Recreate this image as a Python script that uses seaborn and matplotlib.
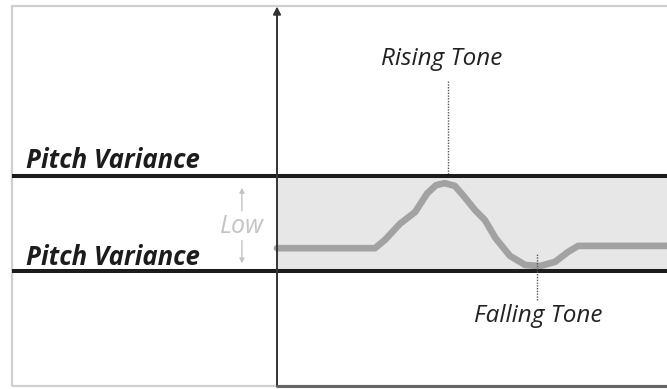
"""
plot.py
Pitch variance diagram: a pitch contour drifting inside a low-variance band.
"""

import matplotlib
matplotlib.use("Agg")
import matplotlib.pyplot as plt
from matplotlib.patches import Rectangle
import pandas as pd
import seaborn as sns

# ---------------------------------------------------------------------------
# Data (time 0-100, pitch 0-100)
# ---------------------------------------------------------------------------
TIME = [0, 25.1, 27.7, 31.5, 35.4, 38.5, 40.8, 43.0, 45.6, 47.8, 50.8, 53.3,
        56.0, 59.7, 63.6, 67.4, 71.3, 74.6, 77.2, 100]
PITCH = [36.0, 36.0, 38.2, 42.4, 45.5, 50.4, 52.6, 53.1, 52.4, 49.8, 46.0,
         43.4, 38.7, 34.0, 31.6, 31.3, 32.4, 35.0, 36.6, 36.6]

BAND_LOW = 30
BAND_HIGH = 55
BAND_LABELS = ["Pitch Variance", "Pitch Variance"]
RISING_AT = 43.8
FALLING_AT = 66.7
TONE_LABELS = ["Rising Tone", "Falling Tone"]
BAND_NAME = "Low"

df = pd.DataFrame({"time": TIME, "pitch": PITCH})

sns.set_theme(style="white")
plt.rcParams["font.family"] = ["Open Sans", "DejaVu Sans"]

fig = plt.figure(figsize=(6.67, 3.89), dpi=100)
ax = fig.add_axes([0, 0, 1, 1])
ax.set_xlim(-71.03, 100)
ax.set_ylim(-1.05, 101.3)
ax.axis("off")

# outer frame
ax.add_patch(Rectangle((-67.9, -0.3), 170, 99.9, fill=False,
                       edgecolor="#cfcfcf", linewidth=1.6, zorder=0))

# shaded band right of the axis
ax.fill_between([0, 101], BAND_LOW, BAND_HIGH, color="#e7e7e7", zorder=1,
                linewidth=0)

# band limits
for y in (BAND_LOW, BAND_HIGH):
    ax.plot([-67.9, 101], [y, y], color="#1c1c1c", linewidth=2.9, zorder=4,
            solid_capstyle="butt")

# pitch contour
sns.lineplot(data=df, x="time", y="pitch", ax=ax, color="#a2a2a2",
             linewidth=4.8, sort=False, zorder=3,
             solid_capstyle="round", solid_joinstyle="round")

# axes with arrow
ax.annotate("", xy=(0, 99.6), xytext=(0, -0.3),
            arrowprops=dict(arrowstyle="-|>", color="#333333", lw=1.4,
                            mutation_scale=11, shrinkA=0, shrinkB=0),
            zorder=5)
ax.plot([0, 101], [-0.15, -0.15], color="#666666", linewidth=2.2, zorder=5)

# tone markers
ax.plot([RISING_AT, RISING_AT], [80.0, BAND_HIGH + 0.5], color="#555555",
        linestyle=(0, (1, 1)), linewidth=1.0, zorder=2)
ax.plot([FALLING_AT, FALLING_AT], [22.4, 34.7], color="#555555",
        linestyle=(0, (1, 1)), linewidth=1.0, zorder=6)
ax.text(42.2, 84.2, TONE_LABELS[0], ha="center", va="baseline",
        fontsize=17.5, style="italic", color="#222222")
ax.text(67.0, 16.6, TONE_LABELS[1], ha="center", va="baseline",
        fontsize=17.5, style="italic", color="#222222")

# band labels
ax.text(-64.4, 57.1, BAND_LABELS[0], ha="left", va="baseline",
        fontsize=18.5, style="italic", weight="bold", color="#1c1c1c")
ax.text(-64.4, 31.6, BAND_LABELS[1], ha="left", va="baseline",
        fontsize=18.5, style="italic", weight="bold", color="#1c1c1c")

# "Low" with arrows
ax.text(-9.0, 40.0, BAND_NAME, ha="center", va="baseline", fontsize=18,
        style="italic", color="#c4c4c4")
ax.annotate("", xy=(-9.0, 51.9), xytext=(-9.0, 45.8),
            arrowprops=dict(arrowstyle="-|>", color="#c4c4c4", lw=1.0,
                            mutation_scale=7, shrinkA=0, shrinkB=0))
ax.annotate("", xy=(-9.0, 32.0), xytext=(-9.0, 38.0),
            arrowprops=dict(arrowstyle="-|>", color="#c4c4c4", lw=1.0,
                            mutation_scale=7, shrinkA=0, shrinkB=0))

fig.savefig("out.png", dpi=100)
plt.close(fig)
